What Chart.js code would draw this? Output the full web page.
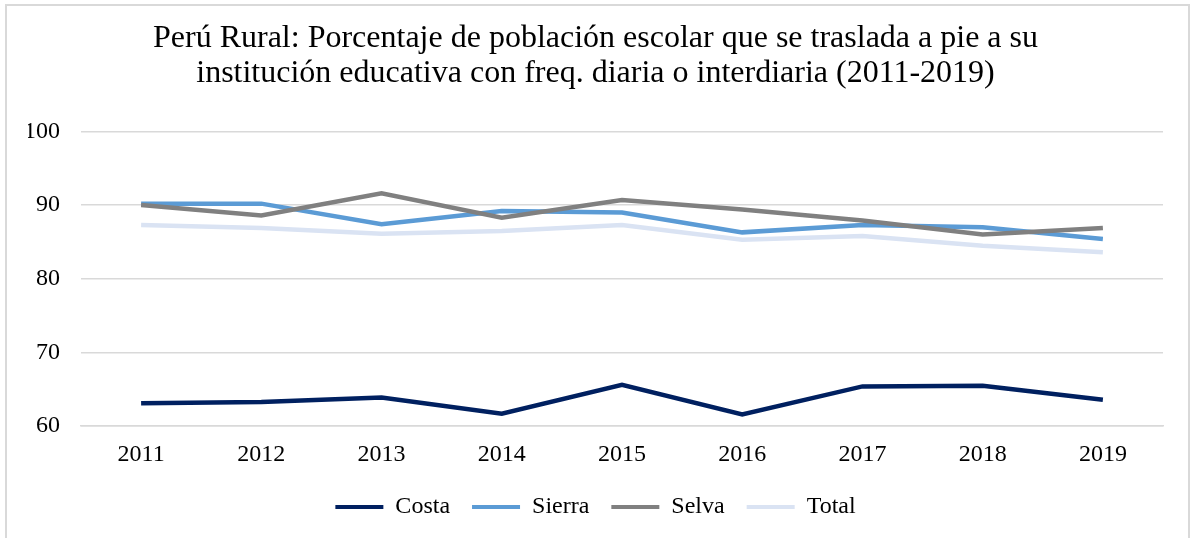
<!DOCTYPE html>
<html>
<head>
<meta charset="utf-8">
<script src="https://cdn.jsdelivr.net/npm/chart.js@4.4.1/dist/chart.umd.min.js"></script>
<style>
    html, body { margin: 0; padding: 0; background: #ffffff; }
    #wrap { position: relative; width: 1193px; height: 538px; }
    #frame {
        position: absolute; left: 5px; top: 4px; width: 1185px; height: 560px;
        border: 2px solid #d9d9d9; box-sizing: border-box;
    }
    canvas { position: absolute; left: 0; top: 0; }
</style>
</head>
<body>
<div id="wrap">
    <div id="frame"></div>
    <canvas id="walkChart" width="1193" height="538"></canvas>
</div>
<script>
// ======================================================
// Data
// ======================================================
const years = ['2011', '2012', '2013', '2014', '2015', '2016', '2017', '2018', '2019'];
const costa  = [63.1, 63.3, 63.9, 61.7, 65.6, 61.6, 65.4, 65.5, 63.6];
const sierra = [90.2, 90.2, 87.4, 89.2, 89.0, 86.3, 87.3, 87.0, 85.4];
const selva  = [90.0, 88.6, 91.6, 88.3, 90.7, 89.4, 87.9, 86.0, 86.9];
const total  = [87.3, 86.9, 86.1, 86.5, 87.3, 85.3, 85.8, 84.5, 83.6];
const yTicks = [60, 70, 80, 90, 100];

const titleLines = [
    'Perú Rural: Porcentaje de población escolar que se traslada a pie a su',
    'institución educativa con freq. diaria o interdiaria (2011-2019)'
];

const FONT = "'Liberation Serif', 'Times New Roman', serif";

function makeSeries(label, values, color, order) {
    return {
        label: label,
        data: values,
        borderColor: color,
        backgroundColor: color,
        borderWidth: 4.5,
        pointRadius: 0,
        pointHoverRadius: 0,
        tension: 0,
        fill: false,
        order: order
    };
}

// Total sits underneath the others; legend keeps the original order
const datasets = [
    makeSeries('Costa', costa, '#002060', 1),
    makeSeries('Sierra', sierra, '#5b9bd5', 2),
    makeSeries('Selva', selva, '#808080', 1),
    makeSeries('Total', total, '#dae3f3', 3)
];

const ctx = document.getElementById('walkChart').getContext('2d');
new Chart(ctx, {
    type: 'line',
    data: { labels: years, datasets: datasets },
    options: {
        responsive: false,
        animation: false,
        layout: { padding: { left: 28, right: 30, top: 21, bottom: 9 } },
        plugins: {
            title: {
                display: true,
                text: titleLines,
                color: '#000000',
                font: { family: FONT, size: 32, weight: 'normal', lineHeight: 1.1 },
                padding: { top: 0, bottom: 40 }
            },
            legend: {
                position: 'bottom',
                labels: {
                    color: '#000000',
                    font: { family: FONT, size: 24 },
                    boxWidth: 48,
                    boxHeight: 4,
                    padding: 22,
                    sort: function(a, b) { return a.datasetIndex - b.datasetIndex; },
                    generateLabels: function(chart) {
                        return Chart.defaults.plugins.legend.labels.generateLabels(chart)
                            .map(function(item) { item.lineWidth = 0; return item; });
                    }
                }
            },
            tooltip: { enabled: false }
        },
        scales: {
            x: {
                offset: true,
                afterFit: function(scale) { scale.height = scale.height - 10; },
                grid: { display: false, drawTicks: false },
                border: { display: true, color: '#d9d9d9', width: 1.5 },
                ticks: { color: '#000000', font: { family: FONT, size: 24 }, padding: 14 }
            },
            y: {
                min: 60,
                max: 100,
                afterFit: function(scale) { scale.width = 53; },
                afterBuildTicks: function(scale) {
                    scale.ticks = yTicks.map(function(v) { return { value: v }; });
                },
                grid: { color: '#d9d9d9', lineWidth: 1.5, drawTicks: false },
                border: { display: false },
                ticks: { color: '#000000', font: { family: FONT, size: 24 }, padding: 21 }
            }
        }
    }
});
</script>
</body>
</html>
